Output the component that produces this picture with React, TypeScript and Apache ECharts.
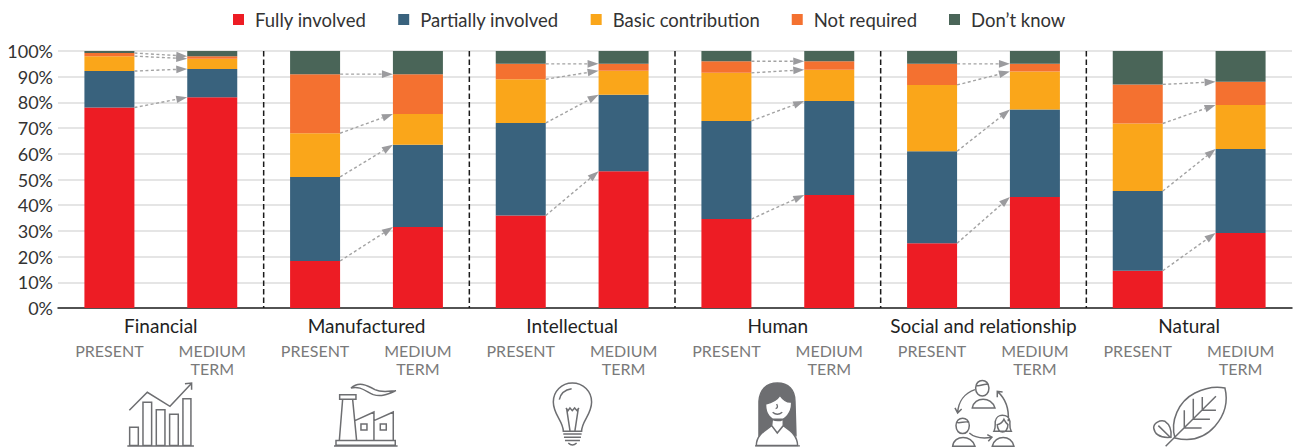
import React, { useEffect, useRef } from "react";
import * as echarts from "echarts";

const FONT = "Lato";
const columns = ["PRESENT", "MEDIUM\nTERM", "PRESENT", "MEDIUM\nTERM", "PRESENT", "MEDIUM\nTERM", "PRESENT", "MEDIUM\nTERM", "PRESENT", "MEDIUM\nTERM", "PRESENT", "MEDIUM\nTERM"];
const capitals = ["Financial", "Manufactured", "Intellectual", "Human", "Social and relationship", "Natural"];
const seriesNames = ["Fully involved", "Partially involved", "Basic contribution", "Not required", "Don’t know"];
const colors = ["#ED1C24", "#39627D", "#FAA61A", "#F47130", "#4A6558"];

const fully = [78, 82, 18.3, 31.5, 36, 53.2, 34.6, 44, 25.2, 43.2, 14.5, 29.2];
const partially = [14.2, 11, 32.7, 32, 36, 29.8, 38.2, 36.5, 35.8, 34, 31, 32.7];
const basic = [5.8, 4, 17, 12, 17, 9.3, 18.7, 12.2, 25.8, 14.8, 26.3, 17.1];
const notRequired = [1.2, 1, 23, 15.5, 6, 2.7, 4.5, 3.3, 8.2, 3, 15.2, 9];
const dontKnow = [0.8, 2, 9, 9, 5, 5, 4, 4, 5, 5, 13, 12];
const values = [fully, partially, basic, notRequired, dontKnow];

const separators = [1, 3, 5, 7, 9];

const BAR_WIDTH = 50;
const ICON_COLOR = "#6D6E71";

function cumulative(col: number, level: number) {
  let s = 0;
  for (let i = 0; i <= level; i++) s += values[i][col];
  return s;
}

const connectors: number[][] = [];
for (let col = 0; col < 12; col += 2) {
  for (let level = 0; level < 4; level++) {
    connectors.push([col, cumulative(col, level), col + 1, cumulative(col + 1, level)]);
  }
}

const iconDefs: { name: string; d: string; x: number; fill?: string; width?: number }[] = [
  { name: "iFin", x: 120, d: "M28,97 L82,43 L150,85 L213,18 M195,17 L215,15 L215,35 M29,148 H55 V203 H29 Z M69,73 H95 V203 H69 Z M109,95 H135 V203 H109 Z M149,109 H175 V203 H149 Z M189,62 H213 V203 H189 Z M22,204 H222" },
  { name: "iFac", x: 325, d: "M44,50 H93 V64 H44 Z M53,64 L43,188 M83,64 L95,188 M90,128 L147,102 V188 M147,128 L205,102 V188 M108,138 H126 V156 H108 Z M166,138 H184 V156 H166 Z M33,188 H211 V202 H33 Z M27,204 H218 M78,30 C100,10 125,20 150,35 C170,45 190,40 213,38 C190,48 170,58 145,50 C125,42 105,22 78,30 Z" },
  { name: "iBulb", x: 530, d: "M100,160 C100,130 70,110 70,72 C70,40 95,15 127,15 C160,15 185,40 185,72 C185,110 155,130 155,160 Z M100,168 H155 M102,178 H153 M105,188 H150 M115,195 Q127,207 140,195 M108,90 L114,98 L120,90 L127,98 L134,90 L141,98 L147,90 M110,92 L120,158 M145,92 L135,158 M88,65 C92,45 105,35 125,32" },
  { name: "iHair", x: 735, fill: ICON_COLOR, d: "M72,172 L72,70 C74,35 95,15 127,15 C160,15 180,35 180,70 L183,172 L150,150 L105,150 Z" },
  { name: "iPerson", x: 735, fill: "#FFFFFF", d: "M92,78 C110,74 126,66 135,52 C145,66 158,74 170,72 C172,105 150,128 128,128 C108,128 90,108 92,78 Z M112,124 H145 V143 L127,165 L110,143 Z M64,203 C64,172 90,158 110,143 L127,165 L145,143 C165,158 188,172 188,203 Z" },
  { name: "iFace", x: 735, width: 4, d: "M125,78 Q131,90 122,92 M113,103 Q127,115 142,103 M60,204 H195" },
  { name: "iSoc", x: 940, d: "M107,30 C107,0 147,0 147,30 C147,62 107,62 107,30 Z M97,90 C103,55 155,55 165,90 Z M48,143 C48,113 88,113 88,143 C88,175 48,175 48,143 Z M38,205 C42,170 95,170 105,205 Z M157,205 C165,170 215,170 222,205 Z M105,35 C75,45 55,70 53,105 M45,90 L53,105 L65,93 M205,130 C208,90 195,60 172,40 M172,58 L172,40 L188,42 M88,165 C105,180 130,182 155,178 M142,170 L156,178 L145,190 M108,22 C120,28 132,14 146,20 M49,133 C60,138 75,128 87,133 M162,160 C168,150 165,140 166,130 C168,118 178,112 187,112 C198,112 208,118 210,130 C210,142 208,150 214,160 Z M172,140 C180,138 188,132 192,124 C196,132 202,138 204,140 C204,170 172,170 172,140 Z" },
  { name: "iLeaf", x: 1145, d: "M90,180 C75,130 100,70 150,45 C180,30 215,25 240,30 C250,70 240,110 210,145 C175,185 130,190 90,180 Z M62,205 L213,55 M118,150 V97 M145,124 V62 M172,97 V57 M118,150 H170 M145,124 H195 M172,97 H213 M78,178 C55,180 30,175 26,150 C26,135 45,125 60,130 C75,140 80,160 78,178 Z M40,143 L78,180" },
];

iconDefs.forEach((ic) => echarts.graphic.registerShape(ic.name, echarts.graphic.extendPath(ic.d, {}) as any));

function renderConnector(_: any, api: any) {
  const half = BAR_WIDTH / 2;
  const a = api.coord([api.value(0), api.value(1)]);
  const b = api.coord([api.value(2), api.value(3)]);
  const x1 = a[0] + half;
  const y1 = a[1];
  const x2 = b[0] - half;
  const y2 = b[1];
  const ang = Math.atan2(y2 - y1, x2 - x1);
  const L = 11;
  const W = 3.8;
  const bx = x2 - L * Math.cos(ang);
  const by = y2 - L * Math.sin(ang);
  const nx = -Math.sin(ang) * W;
  const ny = Math.cos(ang) * W;
  return {
    type: "group",
    children: [
      { type: "line", shape: { x1, y1, x2: bx, y2: by }, style: { stroke: "#A3A3A3", lineWidth: 1.4, lineDash: [3, 2.5], fill: null } },
      { type: "polygon", shape: { points: [[x2, y2], [bx + nx, by + ny], [bx - nx, by - ny]] }, style: { fill: "#9B9B9E" } },
    ],
  };
}

function renderSeparator(_: any, api: any) {
  const band = api.size([1, 0])[0];
  const top = api.coord([api.value(0), 100]);
  const bottom = api.coord([api.value(0), 0]);
  const x = top[0] + band / 2;
  return {
    type: "line",
    shape: { x1: x, y1: top[1], x2: x, y2: bottom[1] },
    style: { stroke: "#1A1A1A", lineWidth: 1.5, lineDash: [5.5, 3] },
  };
}

export default function App() {
  const ref = useRef<HTMLDivElement>(null);
  useEffect(() => {
    const chart = echarts.init(ref.current!, null, { renderer: "svg" });
    chart.setOption({
      animation: false,
      textStyle: { fontFamily: FONT },
      legend: {
        data: seriesNames,
        left: 228,
        top: 5,
        icon: "rect",
        itemWidth: 11,
        itemHeight: 11,
        itemGap: 32,
        textStyle: { fontFamily: FONT, fontSize: 18.5, fontWeight: 400, color: "#333", padding: [0, 0, 0, 6] },
      },
      grid: { left: 58, right: 1, top: 51, height: 257, containLabel: false },
      xAxis: [
        {
          type: "category",
          data: columns,
          position: "bottom",
          axisLine: { show: true, lineStyle: { color: "#222", width: 1.5 } },
          axisTick: { show: false },
          axisLabel: { interval: 0, margin: 33, fontFamily: FONT, fontSize: 16, fontWeight: 400, color: "#7A7A7A", lineHeight: 18 },
        },
        {
          type: "category",
          data: capitals,
          position: "bottom",
          axisLine: { show: false },
          axisTick: { show: false },
          axisLabel: { interval: 0, margin: 8, fontFamily: FONT, fontSize: 19, fontWeight: 400, color: "#222" },
        },
      ],
      yAxis: {
        type: "value",
        min: 0,
        max: 100,
        interval: 10,
        axisLine: { show: false },
        axisTick: { show: false },
        axisLabel: { margin: 5, fontFamily: FONT, fontSize: 18, fontWeight: 400, color: "#333", formatter: "{value}%" },
        splitLine: { lineStyle: { color: "#DCDCDC", width: 1.5 } },
      },
      series: [
        ...seriesNames.map((name, i) => ({
          name,
          type: "bar",
          stack: "all",
          barWidth: BAR_WIDTH,
          itemStyle: { color: colors[i] },
          data: values[i],
        })),
        {
          type: "custom",
          renderItem: renderSeparator,
          data: separators.map((s) => [s]),
          encode: { x: 0 },
          silent: true,
          z: 5,
          clip: false,
        },
        {
          type: "custom",
          renderItem: renderConnector,
          data: connectors,
          encode: { x: [0, 2], y: [1, 3] },
          silent: true,
          z: 6,
          clip: false,
        },
      ],
      graphic: iconDefs.map((ic) => ({
        type: ic.name,
        x: ic.x,
        y: 378,
        scaleX: 1 / 3,
        scaleY: 1 / 3,
        silent: true,
        style: { fill: ic.fill ?? "none", stroke: ICON_COLOR, lineWidth: ic.width ?? 4.5 },
      })),
    });
    return () => chart.dispose();
  }, []);
  return <div ref={ref} style={{ position: "absolute", left: 0, top: 0, width: 1293, height: 448 }} />;
}
